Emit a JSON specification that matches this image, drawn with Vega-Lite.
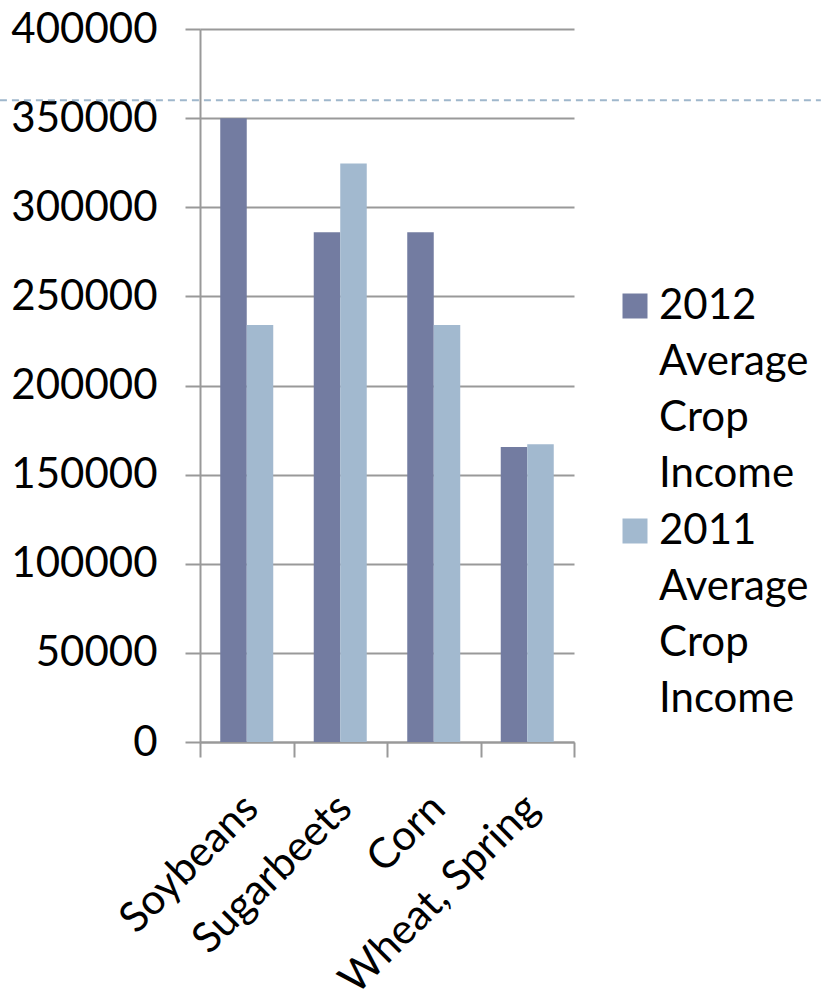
{
  "$schema": "https://vega.github.io/schema/vega-lite/v6.json",
  "autosize": {"type": "none"},
  "width": 374,
  "height": 713,
  "padding": {"left": 200, "top": 29, "right": 247, "bottom": 250},
  "background": "white",
  "config": {
    "view": {"stroke": null},
    "font": "Lato",
    "style": {"guide-label": {"lineHeight": 56}}
  },
  "datasets": {
    "bars": [
      {"crop": "Soybeans", "series": "2012 Average Crop Income", "income": 350000},
      {"crop": "Soybeans", "series": "2011 Average Crop Income", "income": 234000},
      {"crop": "Sugarbeets", "series": "2012 Average Crop Income", "income": 286000},
      {"crop": "Sugarbeets", "series": "2011 Average Crop Income", "income": 324500},
      {"crop": "Corn", "series": "2012 Average Crop Income", "income": 286000},
      {"crop": "Corn", "series": "2011 Average Crop Income", "income": 234000},
      {"crop": "Wheat, Spring", "series": "2012 Average Crop Income", "income": 165500},
      {"crop": "Wheat, Spring", "series": "2011 Average Crop Income", "income": 167000}
    ],
    "deco": [{"y": 360000, "x0": -0.535, "x1": 1.66}]
  },
  "layer": [
    {
      "data": {"name": "bars"},
      "mark": {"type": "bar"},
      "encoding": {
        "x": {
          "field": "crop", "type": "nominal",
          "sort": ["Soybeans", "Sugarbeets", "Corn", "Wheat, Spring"],
          "scale": {"paddingInner": 0, "paddingOuter": 0},
          "axis": {
            "title": null, "labelAngle": -45, "labelFontSize": 42, "labelColor": "#000000",
            "labelPadding": 30, "labelOffset": -10, "tickBand": "extent", "tickSize": 15, "tickColor": "#999999", "tickWidth": 2,
            "domainColor": "#999999", "domainWidth": 2, "grid": false, "labelLimit": 400
          }
        },
        "xOffset": {
          "field": "series", "type": "nominal",
          "sort": ["2012 Average Crop Income", "2011 Average Crop Income"],
          "scale": {"paddingInner": 0, "paddingOuter": 0.764}
        },
        "y": {
          "field": "income", "type": "quantitative",
          "scale": {"domain": [0, 400000], "nice": false},
          "axis": {
            "title": null, "values": [0, 50000, 100000, 150000, 200000, 250000, 300000, 350000, 400000],
            "format": "d", "labelFontSize": 42, "labelColor": "#000000", "labelPadding": 28,
            "tickSize": 15, "tickColor": "#999999", "tickWidth": 2,
            "domainColor": "#999999", "domainWidth": 2,
            "grid": true, "gridColor": "#999999", "gridWidth": 2
          }
        },
        "color": {
          "field": "series", "type": "nominal",
          "sort": ["2012 Average Crop Income", "2011 Average Crop Income"],
          "scale": {"range": ["#737ca1", "#a2b9cf"]},
          "legend": {
            "title": null, "orient": "none", "legendX": 414, "legendY": 256,
            "symbolType": "square", "symbolSize": 625, "symbolStrokeWidth": 0,
            "labelFontSize": 42, "labelColor": "#000000", "labelOffset": 3,
            "labelExpr": "split(datum.label, ' ')", "labelLimit": 300, "rowPadding": 15
          }
        }
      }
    },
    {
      "data": {"name": "deco"},
      "mark": {"type": "rule", "strokeDash": [7, 5], "strokeWidth": 2, "color": "#9fb7cc", "clip": false},
      "encoding": {
        "x": {"field": "x0", "type": "quantitative", "scale": {"domain": [0, 1], "nice": false, "zero": false}, "axis": null},
        "x2": {"field": "x1"},
        "y": {"field": "y", "type": "quantitative"}
      }
    }
  ],
  "resolve": {"scale": {"x": "independent"}}
}
